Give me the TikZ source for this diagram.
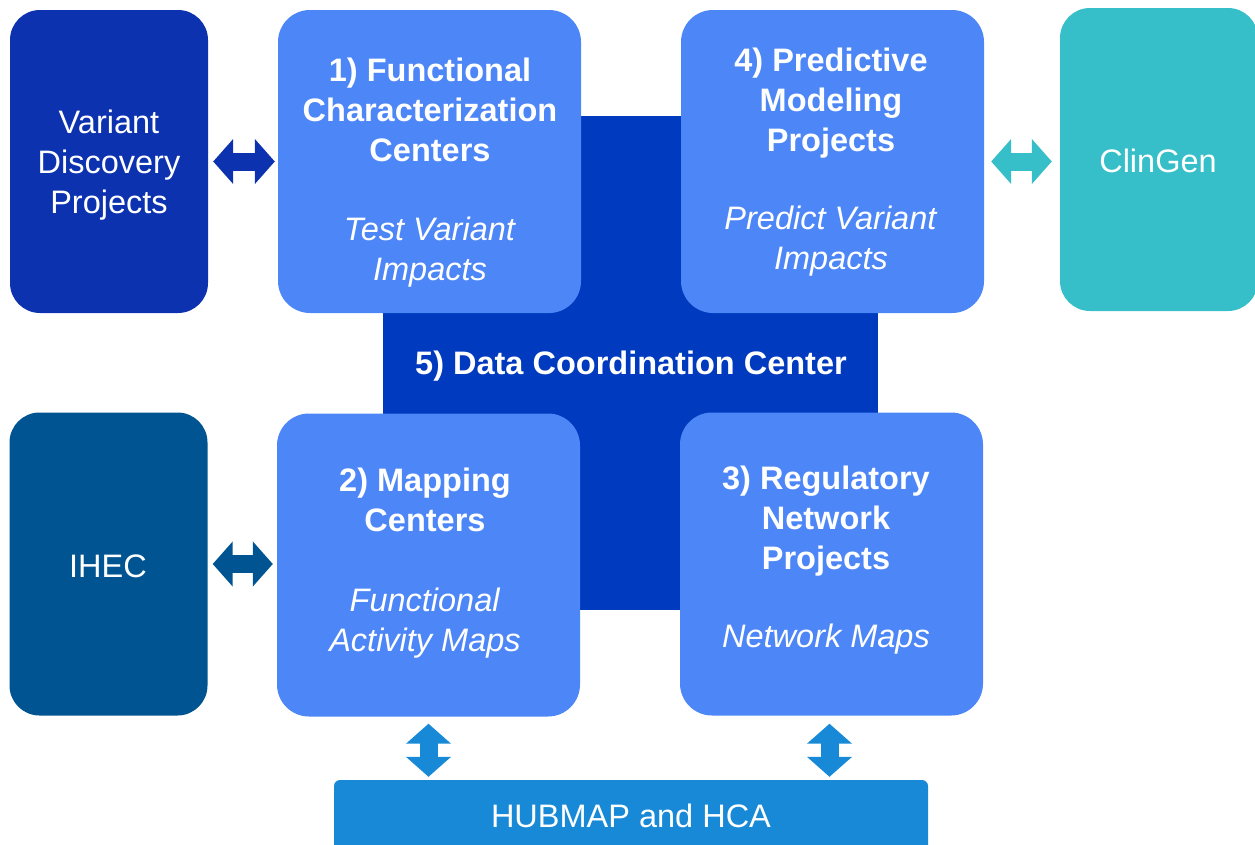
\documentclass[tikz,border=0pt]{standalone}
\usepackage{fontspec}
\setmainfont{Liberation Sans}
\usetikzlibrary{arrows.meta}

\definecolor{vdpblue}{RGB}{12,50,176}
\definecolor{centerblue}{RGB}{77,134,247}
\definecolor{dccblue}{RGB}{0,58,190}
\definecolor{clingenteal}{RGB}{54,191,201}
\definecolor{ihecblue}{RGB}{0,84,145}
\definecolor{hubblue}{RGB}{24,137,214}

\tikzstyle{bigbox} = [rectangle, rounded corners=32pt, minimum width=303pt, minimum height=303pt, inner sep=0pt, fill=centerblue, text=white]
\tikzstyle{sidebox} = [rectangle, rounded corners=30pt, minimum width=198pt, minimum height=303pt, inner sep=0pt, text=white, align=center]
\tikzstyle{boxtext} = [text=white, align=center, inner sep=0pt]
\tikzstyle{darrow} = [line width=18pt, {Triangle[width=44pt,length=20pt]}-{Triangle[width=44pt,length=20pt]}]

\begin{document}
\begin{tikzpicture}[x=1pt, y=-1pt, font=\fontsize{32.5}{40}\selectfont]
	\useasboundingbox (0,0) rectangle (1255,844);
	\clip (0,0) rectangle (1255,844);
	% Place nodes
	\node [rectangle, fill=dccblue, minimum width=495pt, minimum height=494pt, inner sep=0pt] (DataCoordination) at (630.5,363) {};
	\node [boxtext] (DataCoordinationText) at (631,366) {\textbf{5) Data Coordination Center}};
	\node [sidebox, fill=vdpblue] (VariantDiscovery) at (109,161.5) {};
	\node [boxtext] (VariantDiscoveryText) at (109,165.5) {Variant\\Discovery\\Projects};
	\node [bigbox] (Functional) at (429.5,161.5) {};
	\node [bigbox] (Predictive) at (832.5,161.5) {};
	\node [sidebox, fill=clingenteal] (ClinGen) at (1159,159.5) {};
	\node [boxtext] (ClinGenText) at (1158,161) {ClinGen};
	\node [sidebox, fill=ihecblue] (IHEC) at (108.5,564) {};
	\node [boxtext] (IHECText) at (108,566) {IHEC};
	\node [bigbox] (Mapping) at (428.5,565) {};
	\node [bigbox] (Regulatory) at (831.5,564) {};
	\node [rectangle, rounded corners=6pt, fill=hubblue, minimum width=594pt, minimum height=76pt, inner sep=0pt] (Hubmap) at (631,818) {};
	\node [boxtext] (HubmapText) at (631,815.5) {HUBMAP and HCA};
	% Box texts
	\node [boxtext] (FunctionalText) at (430,173) {\textbf{1) Functional}\\\textbf{Characterization}\\\textbf{Centers}\\[39pt]\textit{Test Variant}\\\textit{Impacts}};
	\node [boxtext] (PredictiveText) at (831,162) {\textbf{4) Predictive}\\\textbf{Modeling}\\\textbf{Projects}\\[38pt]\textit{Predict Variant}\\\textit{Impacts}};
	\node [boxtext] (MappingText) at (425,563.5) {\textbf{2) Mapping}\\\textbf{Centers}\\[40pt]\textit{Functional}\\\textit{Activity Maps}};
	\node [boxtext] (RegulatoryText) at (826,560.5) {\textbf{3) Regulatory}\\\textbf{Network}\\\textbf{Projects}\\[38pt]\textit{Network Maps}};
	% Draw edges
	\draw [darrow, vdpblue, shorten <=5pt, shorten >=3pt] (VariantDiscovery.east) -- (Functional.west);
	\draw [darrow, clingenteal, shorten <=7pt, shorten >=8pt] (Predictive.east) -- (Predictive.east -| ClinGen.west);
	\draw [darrow, ihecblue, shorten <=5pt, shorten >=4pt] (IHEC.east) -- (IHEC.east -| Mapping.west);
	\draw [darrow, hubblue, shorten <=7pt, shorten >=3pt] (Mapping.south) -- (Mapping.south |- Hubmap.north);
	\draw [darrow, hubblue, shorten <=8pt, shorten >=3pt] ([xshift=-2pt]Regulatory.south) -- ([xshift=-2pt]Regulatory.south |- Hubmap.north);
\end{tikzpicture}
\end{document}
